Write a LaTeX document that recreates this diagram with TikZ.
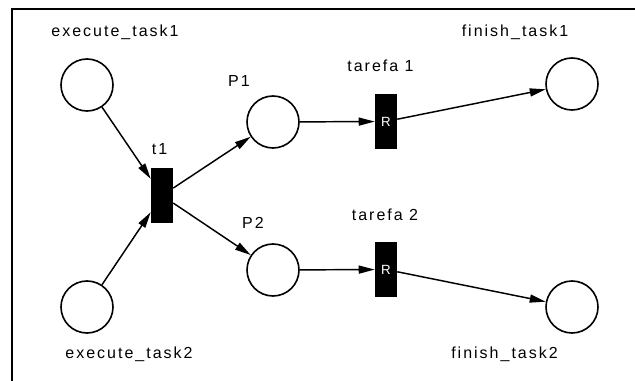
\documentclass[tikz,border=0pt]{standalone}
\usepackage{fontspec}
\setmainfont{Liberation Sans}
\newfontfamily\netfont[LetterSpace=12.5]{Liberation Sans}
\usetikzlibrary{arrows.meta}

\begin{document}
\begin{tikzpicture}[x=0.75pt, y=-0.75pt,
  plc/.style={draw, circle, line width=1.2pt, minimum size=39pt, inner sep=0pt},
  trn/.style={fill=black, minimum width=16.5pt, minimum height=41.25pt,
              inner sep=0pt, text=white, font=\fontsize{10}{12}\selectfont},
  txt/.style={anchor=base, inner sep=0pt, font=\netfont\fontsize{12}{14}\selectfont},
  arr/.style={-{Triangle[length=12pt, width=6pt]}, line width=1.1pt}]
  \useasboundingbox (0,0) rectangle (635,381);
  \draw[line width=1.6pt] (12,381) -- (12,9) -- (635,9);

  \node[plc] (exec1) at (87,85)      {};
  \node[plc] (exec2) at (87,307)     {};
  \node[trn] (t1)    at (162,195.5)  {};
  \node[plc] (p1)    at (273,122)    {};
  \node[plc] (p2)    at (273,270)    {};
  \node[trn] (tar1)  at (386,121.5)  {R};
  \node[trn] (tar2)  at (386,269.5)  {R};
  \node[plc] (fin1)  at (572,84)     {};
  \node[plc] (fin2)  at (572,307)    {};

  \node[txt] (exec1lbl) at (115,37)  {execute\_task1};
  \node[txt] (exec2lbl) at (129,358) {execute\_task2};
  \node[txt] (t1lbl)    at (159.5,155) {t1};
  \node[txt] (p1lbl)    at (239,87)  {P1};
  \node[txt] (p2lbl)    at (253,228) {P2};
  \node[txt] (tar1lbl)  at (380.5,72) {tarefa 1};
  \node[txt] (tar2lbl)  at (385,220) {tarefa 2};
  \node[txt] (fin1lbl)  at (515,37)  {finish\_task1};
  \node[txt] (fin2lbl)  at (504.5,358) {finish\_task2};

  \draw[arr] (exec1) -- (t1);
  \draw[arr] (exec2) -- (t1);
  \draw[arr] (t1) -- (p1);
  \draw[arr] (t1) -- (p2);
  \draw[arr] (p1) -- (tar1);
  \draw[arr] (p2) -- (tar2);
  \draw[arr] (tar1) -- (fin1);
  \draw[arr] (tar2) -- (fin2);
\end{tikzpicture}
\end{document}
